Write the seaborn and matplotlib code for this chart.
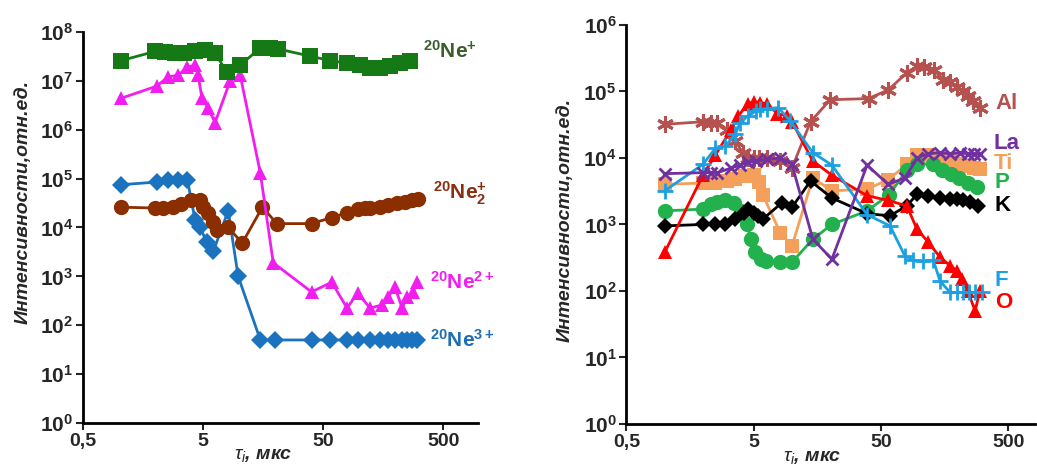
import seaborn as sns
import matplotlib.pyplot as plt

# ---------------- left panel: neon ions ----------------
tau_ne1 = [1.04, 2.0, 2.4, 2.9, 3.5, 4.3, 5.2, 6.3, 7.9, 10.2, 15, 18, 21, 39, 57, 79,
           102, 123, 149, 181, 219, 265]
ne1 = [2.6e7, 4.0e7, 3.9e7, 3.7e7, 3.8e7, 4.0e7, 4.3e7, 3.7e7, 1.5e7, 2.1e7, 4.7e7, 4.7e7,
       4.5e7, 3.2e7, 2.6e7, 2.3e7, 2.1e7, 1.8e7, 1.8e7, 2.0e7, 2.3e7, 2.6e7]

tau_ne2p = [1.04, 2.06, 2.55, 3.1, 3.7, 4.3, 4.55, 4.9, 5.5, 6.3, 8.4, 10.2, 15, 19.2, 40,
            59, 79, 97, 123, 155, 173, 199, 227, 250, 282, 303]
ne2p = [4.4e6, 7.8e6, 1.2e7, 1.3e7, 1.9e7, 2.1e7, 1.3e7, 4.4e6, 2.8e6, 1.4e6, 1.0e7, 1.3e7,
        1.3e5, 1.9e3, 480, 760, 225, 455, 225, 260, 375, 600, 225, 375, 480, 760]

tau_ne3p = [1.04, 2.06, 2.55, 3.1, 3.7, 4.3, 4.7, 5.4, 6.1, 8.1, 9.8, 15, 20, 40, 57, 79,
            97, 123, 149, 173, 199, 227, 250, 275, 303]
ne3p = [7.5e4, 8.5e4, 9.5e4, 9.5e4, 9.5e4, 1.4e4, 1.0e4, 5.0e3, 3.3e3, 2.2e4, 1.0e3, 50,
        50, 50, 50, 50, 50, 50, 50, 50, 50, 50, 50, 50, 50]

tau_ne2 = [1.04, 2.0, 2.3, 2.8, 3.3, 4.0, 4.7, 5.0, 5.5, 6.1, 6.5, 8.1, 10.6, 15.6, 20.6,
           40, 59, 79, 97, 112, 123, 149, 173, 205, 240, 275, 310]
ne2 = [2.6e4, 2.5e4, 2.5e4, 2.6e4, 3.0e4, 3.6e4, 3.6e4, 2.6e4, 2.0e4, 1.3e4, 9e3, 1.0e4,
       4.8e3, 2.6e4, 1.2e4, 1.2e4, 1.6e4, 2.0e4, 2.4e4, 2.5e4, 2.5e4, 2.6e4, 2.9e4, 3.2e4,
       3.4e4, 3.6e4, 3.8e4]

# ---------------- right panel: elements ----------------
tau_al = [1.0, 2.0, 2.3, 2.6, 3.1, 3.6, 4.1, 4.5, 5.0, 5.5, 6.4, 8.1, 10, 14, 20, 40, 57,
          80, 97, 110, 130, 155, 175, 200, 220, 240, 265, 300]
al = [3.2e4, 3.5e4, 3.4e4, 3.3e4, 2.6e4, 1.8e4, 1.2e4, 1.0e4, 1.0e4, 1.0e4, 1.0e4, 9e3,
      7e3, 3.5e4, 7.5e4, 7.8e4, 1.05e5, 1.9e5, 2.4e5, 2.3e5, 2.1e5, 1.5e5, 1.4e5, 1.15e5,
      1.0e5, 8.5e4, 7.2e4, 5.7e4]

tau_o = [1.0, 2.0, 2.5, 3.3, 3.8, 4.5, 5.0, 5.6, 6.4, 7.7, 9.2, 10, 14.6, 20.6, 39, 57, 80,
         96, 117, 146, 175, 198, 217, 241, 275, 300]
o = [380, 5.5e3, 1.1e4, 2.6e4, 4.3e4, 6.5e4, 7e4, 6.8e4, 6.5e4, 4.6e4, 4.3e4, 3.5e4, 9e3,
     5.5e3, 2.7e3, 2.3e3, 1.9e3, 850, 550, 320, 240, 200, 150, 100, 50, 100]

tau_f = [1.0, 2.0, 2.5, 3.0, 3.6, 3.9, 4.5, 5.2, 5.6, 6.4, 7.8, 9.7, 14.6, 20.6, 39, 59, 77,
         89, 107, 129, 146, 175, 198, 222, 247, 276, 310]
f = [3.2e3, 8e3, 1.4e4, 1.5e4, 2.3e4, 3.3e4, 4.3e4, 5e4, 5.4e4, 5.5e4, 5.7e4, 3.6e4, 1.2e4,
     7.8e3, 1.4e3, 950, 340, 290, 280, 290, 140, 95, 95, 95, 95, 95, 95]

tau_la = [1.0, 2.0, 2.3, 2.6, 3.3, 3.9, 4.5, 5.2, 6.4, 8.1, 10, 14.6, 20.6, 39, 57, 77, 97,
          117, 146, 175, 210, 240, 270, 300]
la = [5.8e3, 6e3, 6e3, 6e3, 7e3, 7.8e3, 8.6e3, 9e3, 9.5e3, 1e4, 8e3, 600, 300, 7.8e3, 4e3,
      5e3, 1e4, 1.15e4, 1.2e4, 1.15e4, 1.2e4, 1.15e4, 1.15e4, 1.15e4]

tau_ti = [1.0, 2.0, 2.5, 3.1, 3.6, 4.3, 5.0, 5.5, 5.9, 8.1, 10, 14.6, 20.6, 39, 57, 80, 97,
          117, 146, 175, 210, 240, 270, 300]
ti = [4e3, 4.2e3, 4.2e3, 4.5e3, 4.8e3, 5.3e3, 5.5e3, 4.3e3, 2.8e3, 750, 470, 5e3, 3.2e3,
      3.4e3, 4.7e3, 8e3, 1.1e4, 1.1e4, 1e4, 9e3, 8e3, 7.5e3, 7e3, 6.8e3]

tau_p = [1.0, 2.0, 2.3, 2.6, 3.0, 3.5, 4.0, 4.4, 4.8, 5.1, 5.7, 6.3, 8.1, 10, 14.6, 20.6,
         39, 58, 80, 97, 128, 152, 178, 205, 240, 285]
p = [1.6e3, 1.7e3, 2e3, 2.2e3, 2.3e3, 2.1e3, 1.6e3, 1e3, 600, 380, 300, 280, 270, 270, 600,
     1e3, 1.6e3, 2.8e3, 6.5e3, 8.2e3, 8e3, 6.6e3, 5.8e3, 5e3, 4.2e3, 3.6e3]

tau_k = [1.0, 2.0, 2.5, 3.0, 3.6, 4.2, 4.5, 5.0, 5.4, 5.9, 8.3, 10, 14, 20.6, 39, 59, 80, 97,
         117, 146, 175, 200, 222, 250, 290]
k = [950, 1e3, 1e3, 1e3, 1.2e3, 1.5e3, 1.7e3, 1.5e3, 1.35e3, 1.2e3, 2.1e3, 1.8e3, 4.5e3,
     2.5e3, 1.45e3, 1.35e3, 1.9e3, 2.9e3, 2.7e3, 2.5e3, 2.4e3, 2.4e3, 2.3e3, 2.2e3, 1.9e3]

x_ticks = [0.5, 5, 50, 500]
x_ticklabels = ["0,5", "5", "50", "500"]

sns.set_style("ticks")
plt.rcParams['font.family'] = ['Liberation Sans', 'DejaVu Sans']
plt.rcParams['mathtext.fontset'] = 'custom'
plt.rcParams['mathtext.rm'] = 'Liberation Sans'
plt.rcParams['mathtext.it'] = 'Liberation Sans:italic'
plt.rcParams['mathtext.bf'] = 'Liberation Sans:bold'

fig = plt.figure(figsize=(10.37, 4.70), dpi=100)
ax1 = fig.add_axes([0.080, 0.100, 0.381, 0.832])
ax2 = fig.add_axes([0.604, 0.098, 0.394, 0.849])


def draw(ax, x, y, color, marker, size, mew=0):
    # line-art markers need an edge in the series colour (seaborn defaults to white)
    sns.lineplot(x=x, y=y, ax=ax, color=color, marker=marker, markersize=size,
                 markeredgewidth=mew, markeredgecolor=color, linewidth=2)


# left panel
draw(ax1, tau_ne3p, ne3p, '#1b72be', 'D', 9)
draw(ax1, tau_ne2, ne2, '#8b2e00', 'o', 11)
draw(ax1, tau_ne2p, ne2p, '#f21ef0', '^', 10)
draw(ax1, tau_ne1, ne1, '#157a15', 's', 11)

lab = dict(fontsize=15, fontweight='bold', ha='left', va='center')
ax1.text(338, 4.2e7, r"$\mathbf{{}^{20}Ne^{+}}$", color='#3b5e2b', **lab)
ax1.text(413, 5e4, r"$\mathbf{{}^{20}Ne_{2}^{+}}$", color='#8b2e10', **lab)
ax1.text(390, 760, r"$\mathbf{{}^{20}Ne^{2+}}$", color='#f21ef0', **lab)
ax1.text(390, 50, r"$\mathbf{{}^{20}Ne^{3+}}$", color='#1f6eb5', **lab)

# right panel
draw(ax2, tau_al, al, '#b5524f', (6, 2, 0), 12, 2.2)
draw(ax2, tau_ti, ti, '#f4a05a', 's', 10)
draw(ax2, tau_p, p, '#22b14c', 'o', 11)
draw(ax2, tau_k, k, '#000000', 'D', 8)
draw(ax2, tau_o, o, '#ff0000', '^', 10)
draw(ax2, tau_f, f, '#1ba1e2', '+', 11, 2)
draw(ax2, tau_la, la, '#7030a0', 'x', 9, 2)

lab2 = dict(fontsize=16, fontweight='bold', ha='left', va='center')
ax2.text(394, 6.6e4, "Al", color='#b5524f', **lab2)
ax2.text(385, 1.65e4, "La", color='#7030a0', **lab2)
ax2.text(385, 8.2e3, "Ti", color='#f4a05a', **lab2)
ax2.text(394, 4.2e3, "P", color='#22b14c', **lab2)
ax2.text(394, 1.9e3, "K", color='#000000', **lab2)
ax2.text(394, 142, "F", color='#1ba1e2', **lab2)
ax2.text(394, 66, "O", color='#ff0000', **lab2)

for ax, top, xmax, ylab_y in [(ax1, 8, 975, 0.565), (ax2, 6, 812, 0.51)]:
    ax.set_xscale('log')
    ax.set_yscale('log')
    ax.set_xlim(0.5, xmax)
    ax.set_ylim(1, 10 ** top)
    ax.set_xticks(x_ticks)
    ax.set_xticklabels(x_ticklabels, fontsize=14, fontweight='bold')
    ax.set_yticks([10 ** i for i in range(top + 1)])
    ax.set_yticklabels([r"$\mathbf{10^{%d}}$" % i for i in range(top + 1)], fontsize=15)
    ax.minorticks_off()
    ax.tick_params(width=1.5, length=5, pad=2)
    for s in ['left', 'bottom']:
        ax.spines[s].set_linewidth(2)
        ax.spines[s].set_color('black')
    sns.despine(ax=ax)
    ax.set_xlabel(r"$\tau_i$, мкс", fontsize=14, fontweight='bold', fontstyle='italic')
    ax.xaxis.set_label_coords(0.456, -0.062)
    ax.set_ylabel("Интенсивности,отн.ед.", fontsize=14, fontweight='bold',
                  fontstyle='italic')
    ax.yaxis.set_label_coords(-0.13, ylab_y)

fig.savefig('out.png', dpi=100)
